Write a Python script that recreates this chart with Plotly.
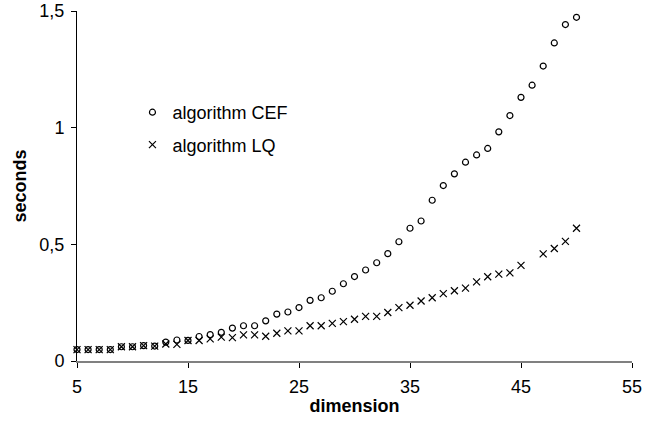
import plotly.graph_objects as go

dimension = list(range(5, 51))
cef = [0.049, 0.049, 0.049, 0.049, 0.061, 0.061, 0.066, 0.064, 0.081, 0.090,
       0.088, 0.105, 0.113, 0.123, 0.141, 0.151, 0.151, 0.172, 0.201, 0.210,
       0.229, 0.260, 0.271, 0.299, 0.331, 0.362, 0.390, 0.421, 0.460, 0.511,
       0.569, 0.600, 0.689, 0.752, 0.802, 0.852, 0.883, 0.911, 0.982, 1.052,
       1.130, 1.182, 1.264, 1.363, 1.442, 1.473]
lq = [0.049, 0.049, 0.049, 0.049, 0.061, 0.061, 0.066, 0.064, 0.073, 0.071,
      0.088, 0.088, 0.095, 0.102, 0.100, 0.112, 0.112, 0.106, 0.119, 0.129,
      0.129, 0.151, 0.151, 0.161, 0.169, 0.179, 0.191, 0.191, 0.208, 0.229,
      0.239, 0.257, 0.271, 0.289, 0.301, 0.312, 0.339, 0.361, 0.372, 0.378,
      0.410, None, 0.459, 0.482, 0.513, 0.569]

x_ticks = [5, 15, 25, 35, 45, 55]
y_ticks = [0, 0.5, 1, 1.5]
y_ticktext = ["0", "0,5", "1", "1,5"]

FONT = "Arial, Liberation Sans, sans-serif"
FS = 18

fig = go.Figure()
fig.add_trace(go.Scatter(
    x=dimension, y=cef, mode="markers", name="algorithm CEF",
    legendgroup="a",
    marker=dict(symbol="circle-open", size=6, color="black", line=dict(width=1.2, color="black")),
    cliponaxis=False,
))
fig.add_trace(go.Scatter(
    x=dimension, y=lq, mode="markers", name="algorithm LQ",
    legendgroup="b",
    marker=dict(symbol="x-thin-open", size=7, color="black", line=dict(width=1.2, color="black")),
    cliponaxis=False,
))

TOP = 11
fig.update_layout(
    width=671, height=427,
    margin=dict(l=76.5, r=39, t=TOP, b=66, autoexpand=False),
    paper_bgcolor="white", plot_bgcolor="white",
    font=dict(family=FONT, size=FS, color="black"),
    showlegend=True,
    legend=dict(
        x=(132 - 76.5) / 555.5, y=(361 - 94) / (361 - TOP), xanchor="left", yanchor="top",
        bgcolor="rgba(0,0,0,0)", borderwidth=0,
        font=dict(family=FONT, size=FS, color="black"),
        tracegroupgap=6,
    ),
    xaxis=dict(
        range=[5, 55], tickvals=x_ticks, ticktext=[str(v) for v in x_ticks],
        showgrid=False, zeroline=False,
        showline=True, linecolor="#808080", linewidth=2,
        ticks="outside", ticklen=5, tickcolor="black", tickwidth=1,
        ticklabelstandoff=3, ticklabeloverflow="allow",
        tickfont=dict(family=FONT, size=FS),
        title=dict(text="<b>dimension</b>", font=dict(family=FONT, size=FS), standoff=4),
    ),
    yaxis=dict(
        range=[0, 1.5], tickvals=y_ticks, ticktext=y_ticktext,
        showgrid=False, zeroline=False,
        showline=True, linecolor="black", linewidth=1,
        ticks="outside", ticklen=5, tickcolor="black", tickwidth=1,
        ticklabelstandoff=3, ticklabeloverflow="allow",
        tickfont=dict(family=FONT, size=FS),
        title=dict(text="<b>seconds</b>", font=dict(family=FONT, size=FS), standoff=8),
    ),
)

fig.write_html("out.html")
